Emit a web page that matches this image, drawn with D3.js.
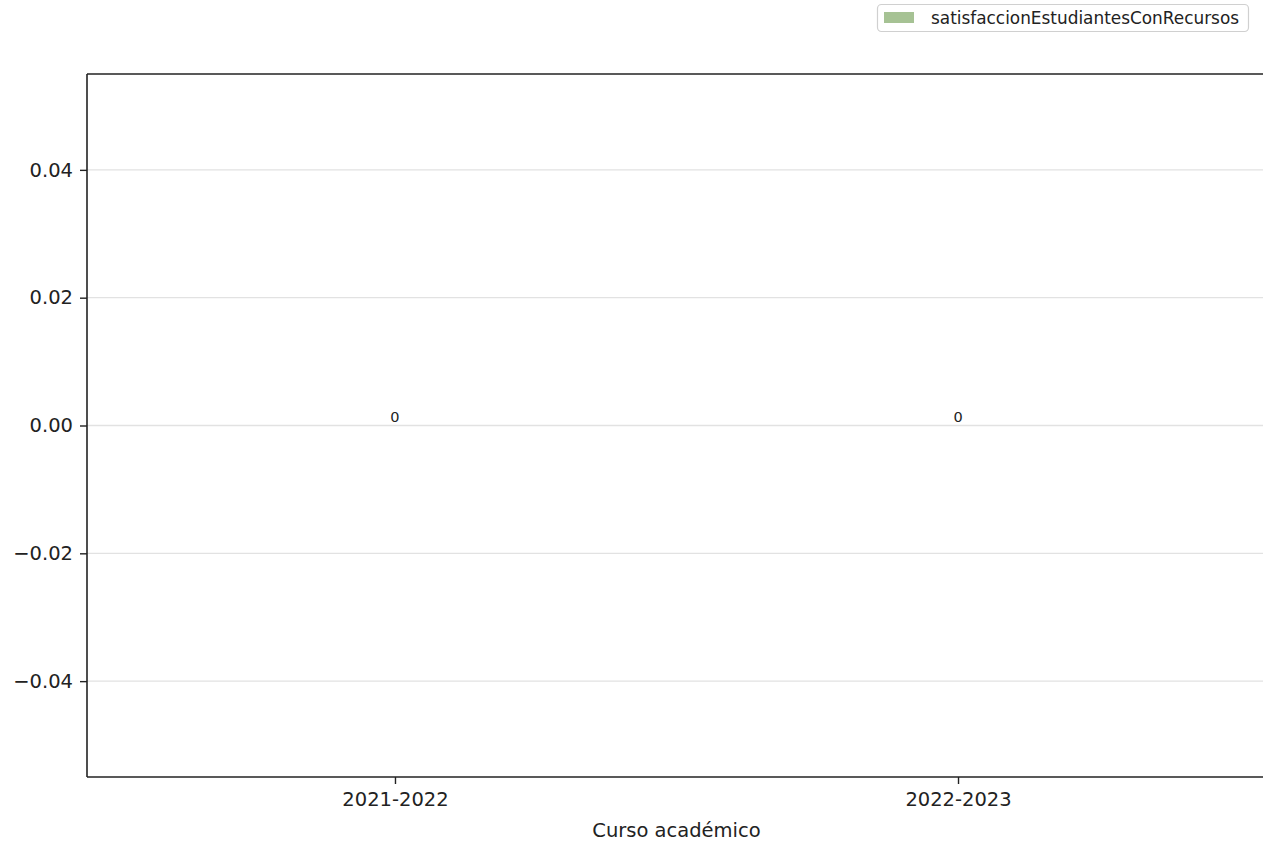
<!DOCTYPE html>
<html>
<head>
<meta charset="utf-8">
<script src="https://cdn.jsdelivr.net/npm/d3@7"></script>
<style>
  html, body { margin: 0; padding: 0; background: #ffffff; }
  svg { display: block; font-family: "DejaVu Sans", sans-serif; }
</style>
</head>
<body>
<svg id="chart" width="1263" height="845"></svg>
<script>
// ---- data ----
const categories = ["2021-2022", "2022-2023"];
const satisfaccionEstudiantesConRecursos = [0, 0];
const yTickValues = [-0.04, -0.02, 0.00, 0.02, 0.04];
const yDomain = [-0.055, 0.055];
const seriesName = "satisfaccionEstudiantesConRecursos";
const xAxisTitle = "Curso académico";

// ---- layout ----
const W = 1263, H = 845;
const plot = { left: 87, right: 1266, top: 74, bottom: 777 };
const barColor = "#a6c294";

const svg = d3.select("#chart");

const x = d3.scalePoint()
  .domain(categories)
  .range([plot.left, plot.right])
  .padding(0.547);

const y = d3.scaleLinear()
  .domain(yDomain)
  .range([plot.bottom, plot.top]);

const fmt = v => d3.format(".2f")(v).replace("-", "\u2212");

// gridlines
svg.append("g")
  .selectAll("line")
  .data(yTickValues)
  .join("line")
  .attr("x1", plot.left)
  .attr("x2", W)
  .attr("y1", d => y(d))
  .attr("y2", d => y(d))
  .attr("stroke", "#e2e2e2")
  .attr("stroke-width", 1.3);

// bars (zero-height)
const barW = x.step() * 0.5;
svg.append("g")
  .selectAll("rect")
  .data(categories.map((c, i) => ({ c, v: satisfaccionEstudiantesConRecursos[i] })))
  .join("rect")
  .attr("x", d => x(d.c) - barW / 2)
  .attr("width", barW)
  .attr("y", d => Math.min(y(d.v), y(0)))
  .attr("height", d => Math.abs(y(d.v) - y(0)))
  .attr("fill", barColor);

// bar labels
svg.append("g")
  .selectAll("text")
  .data(categories.map((c, i) => ({ c, v: satisfaccionEstudiantesConRecursos[i] })))
  .join("text")
  .attr("x", d => x(d.c))
  .attr("y", d => y(d.v) - 3.5)
  .attr("text-anchor", "middle")
  .attr("font-size", "14.5px")
  .attr("fill", "#222")
  .text(d => d3.format("d")(d.v));

// y axis
const yAxis = d3.axisLeft(y)
  .tickValues(yTickValues)
  .tickFormat(fmt)
  .tickSize(7)
  .tickPadding(7);
const gy = svg.append("g")
  .attr("transform", `translate(${plot.left},0)`)
  .call(yAxis);
gy.select(".domain").remove();
gy.selectAll(".tick line").attr("stroke", "#222").attr("stroke-width", 1.4);
gy.selectAll(".tick text")
  .attr("font-size", "19.5px")
  .attr("font-family", "DejaVu Sans, sans-serif")
  .attr("fill", "#222");

// x axis
const xAxis = d3.axisBottom(x)
  .tickSize(7)
  .tickPadding(8);
const gx = svg.append("g")
  .attr("transform", `translate(0,${plot.bottom})`)
  .call(xAxis);
gx.select(".domain").remove();
gx.selectAll(".tick line").attr("stroke", "#222").attr("stroke-width", 1.4);
gx.selectAll(".tick text")
  .attr("font-size", "19.5px")
  .attr("font-family", "DejaVu Sans, sans-serif")
  .attr("fill", "#222");

// spines
const spine = svg.append("g").attr("stroke", "#222").attr("stroke-width", 1.6).attr("fill", "none");
spine.append("line").attr("x1", plot.left).attr("x2", plot.left).attr("y1", plot.top).attr("y2", plot.bottom);
spine.append("line").attr("x1", plot.left).attr("x2", plot.right).attr("y1", plot.bottom).attr("y2", plot.bottom);
spine.append("line").attr("x1", plot.left).attr("x2", plot.right).attr("y1", plot.top).attr("y2", plot.top);
spine.append("line").attr("x1", plot.right).attr("x2", plot.right).attr("y1", plot.top).attr("y2", plot.bottom);

// x axis title
svg.append("text")
  .attr("x", (plot.left + plot.right) / 2)
  .attr("y", 837)
  .attr("text-anchor", "middle")
  .attr("font-size", "19.5px")
  .attr("fill", "#222")
  .text(xAxisTitle);

// legend
const lg = svg.append("g");
lg.append("rect")
  .attr("x", 877.5).attr("y", 4.5)
  .attr("width", 371).attr("height", 27)
  .attr("rx", 4).attr("ry", 4)
  .attr("fill", "#ffffff")
  .attr("stroke", "#d0d0d0")
  .attr("stroke-width", 1.2);
lg.append("rect")
  .attr("x", 884).attr("y", 12)
  .attr("width", 30).attr("height", 11)
  .attr("fill", barColor);
lg.append("text")
  .attr("x", 931).attr("y", 23.5)
  .attr("font-size", "16.9px")
  .attr("fill", "#222")
  .text(seriesName);
</script>
</body>
</html>
